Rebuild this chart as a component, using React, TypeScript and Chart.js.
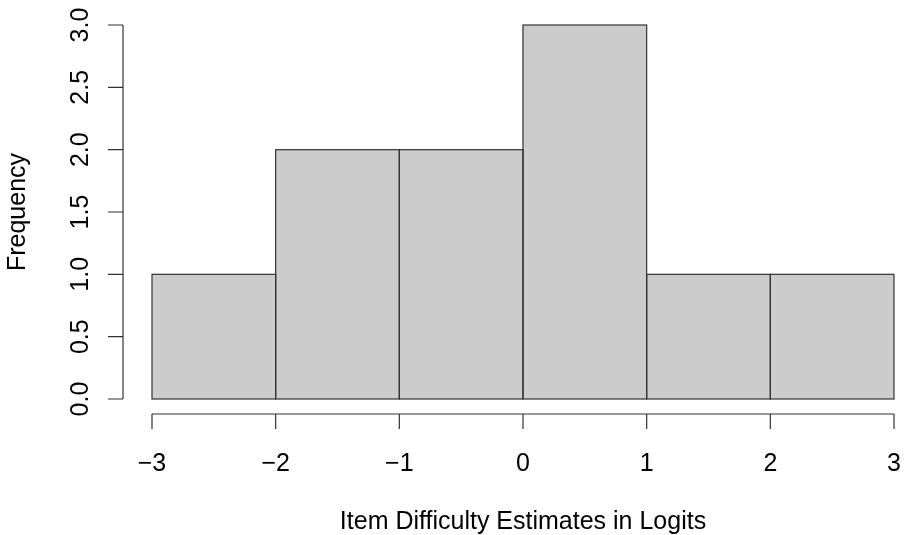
import React, { useEffect, useRef } from "react";
import { Chart, registerables } from "chart.js";

Chart.register(...registerables);

// ---- data ----
const binCenters = [-2.5, -1.5, -0.5, 0.5, 1.5, 2.5];
const frequencies = [1, 2, 2, 3, 1, 1];
const xTicks = [-3, -2, -1, 0, 1, 2, 3];
const xTickLabels = ["\u22123", "\u22122", "\u22121", "0", "1", "2", "3"];
const yTicks = [0, 0.5, 1, 1.5, 2, 2.5, 3];
const yTickLabels = ["0.0", "0.5", "1.0", "1.5", "2.0", "2.5", "3.0"];
const xTitle = "Item Difficulty Estimates in Logits";
const yTitle = "Frequency";

const FONT = "25px 'Liberation Sans', Arial, Helvetica, sans-serif";
const LINE = "#333333";

const rAxesPlugin = {
  id: "rAxes",
  afterDatasetsDraw(chart: any) {
    const ctx = chart.ctx;
    const meta = chart.getDatasetMeta(0);
    ctx.save();
    ctx.strokeStyle = LINE;
    ctx.lineWidth = 1.2;
    meta.data.forEach((bar: any) => {
      const p = bar.getProps(["x", "y", "base", "width"], true);
      ctx.strokeRect(p.x - p.width / 2, p.y, p.width, p.base - p.y);
    });
    ctx.restore();
  },
  afterDraw(chart: any) {
    const ctx = chart.ctx;
    const xs = chart.scales.x;
    const ys = chart.scales.y;
    const area = chart.chartArea;
    ctx.save();
    ctx.strokeStyle = LINE;
    ctx.lineWidth = 1.2;
    ctx.fillStyle = "#000000";
    ctx.font = FONT;

    // x axis
    const axisY = area.bottom + 15;
    const tickLen = 15;
    const x0 = xs.getPixelForValue(xTicks[0]);
    const x1 = xs.getPixelForValue(xTicks[xTicks.length - 1]);
    ctx.beginPath();
    ctx.moveTo(x0, axisY);
    ctx.lineTo(x1, axisY);
    xTicks.forEach((t) => {
      const px = xs.getPixelForValue(t);
      ctx.moveTo(px, axisY);
      ctx.lineTo(px, axisY + tickLen);
    });
    ctx.stroke();
    ctx.textAlign = "center";
    ctx.textBaseline = "alphabetic";
    xTicks.forEach((t, i) => {
      const px = xs.getPixelForValue(t);
      ctx.fillText(xTickLabels[i], px, axisY + 57);
    });

    // y axis
    const axisX = area.left - 29;
    const y0 = ys.getPixelForValue(yTicks[0]);
    const y1 = ys.getPixelForValue(yTicks[yTicks.length - 1]);
    ctx.beginPath();
    ctx.moveTo(axisX, y0);
    ctx.lineTo(axisX, y1);
    yTicks.forEach((t) => {
      const py = ys.getPixelForValue(t);
      ctx.moveTo(axisX, py);
      ctx.lineTo(axisX - tickLen, py);
    });
    ctx.stroke();
    yTicks.forEach((t, i) => {
      const py = ys.getPixelForValue(t);
      ctx.save();
      ctx.translate(axisX - 35, py);
      ctx.rotate(-Math.PI / 2);
      ctx.fillText(yTickLabels[i], 0, 0);
      ctx.restore();
    });

    // titles
    ctx.fillText(xTitle, (area.left + area.right) / 2, 529);
    ctx.save();
    ctx.translate(25, (area.top + area.bottom) / 2);
    ctx.rotate(-Math.PI / 2);
    ctx.fillText(yTitle, 0, 0);
    ctx.restore();
    ctx.restore();
  },
};

export default function App() {
  const ref = useRef<HTMLCanvasElement | null>(null);
  useEffect(() => {
    if (!ref.current) return;
    const chart = new Chart(ref.current, {
      type: "bar",
      data: {
        datasets: [
          {
            data: binCenters.map((x, i) => ({ x, y: frequencies[i] })),
            backgroundColor: "#cccccc",
            borderWidth: 0,
            categoryPercentage: 1,
            barPercentage: 1,
          } as any,
        ],
      },
      options: {
        responsive: false,
        animation: false,
        layout: { padding: { left: 152, right: 13, top: 25, bottom: 136 } },
        scales: {
          x: { type: "linear", min: -3, max: 3, offset: false, display: false },
          y: { type: "linear", min: 0, max: 3, display: false },
        },
        plugins: { legend: { display: false }, tooltip: { enabled: false } },
      },
      plugins: [rAxesPlugin],
    });
    return () => chart.destroy();
  }, []);
  return (
    <div style={{ position: "fixed", left: 0, top: 0, width: 907, height: 535, background: "#fff" }}>
      <canvas ref={ref} width={907} height={535} style={{ display: "block" }} />
    </div>
  );
}
